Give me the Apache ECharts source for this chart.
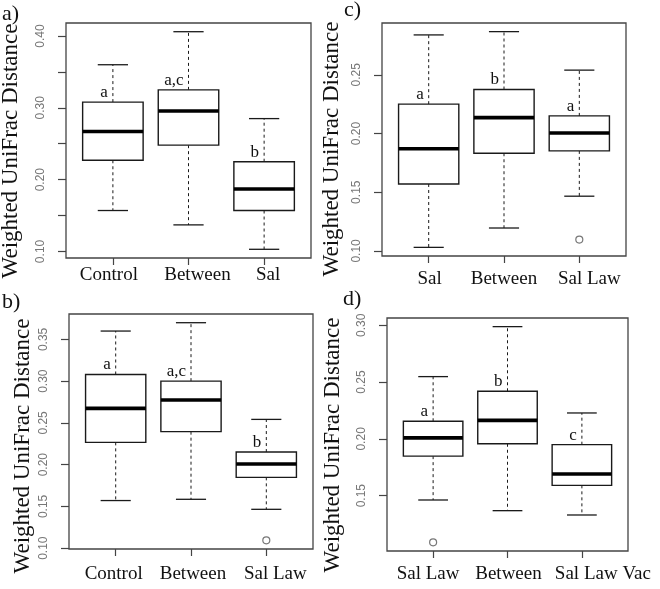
<!DOCTYPE html>
<html><head><meta charset="utf-8">
<script src="https://cdn.jsdelivr.net/npm/echarts@6/dist/echarts.min.js"></script>
<style>html,body{margin:0;padding:0;background:#fff}#c{width:660px;height:589px}</style>
</head><body><div id="c"></div>
<script>
// ---------- data ----------
// stats rows: [lower whisker, Q1, median, Q3, upper whisker]
const panelA_categories = ['Control', 'Between', 'Sal'];
const panelA_stats = [
  [0.157, 0.227, 0.267, 0.308, 0.360],
  [0.137, 0.248, 0.2955, 0.325, 0.406],
  [0.103, 0.157, 0.187, 0.225, 0.285]
];
const panelA_outliers = [];              // [category index, value]
const panelA_letters = ['a', 'a,c', 'b'];
const panelA_ticks = [0.10, 0.15, 0.20, 0.25, 0.30, 0.35, 0.40];
const panelA_tickLabels = [0.10, 0.20, 0.30, 0.40];

const panelB_categories = ['Control', 'Between', 'Sal Law'];
const panelB_stats = [
  [0.157, 0.2267, 0.2674, 0.308, 0.360],
  [0.1585, 0.2395, 0.2774, 0.300, 0.370],
  [0.1465, 0.1848, 0.2008, 0.2151, 0.2542]
];
const panelB_outliers = [[3, 0.1094]];
const panelB_letters = ['a', 'a,c', 'b'];
const panelB_ticks = [0.10, 0.15, 0.20, 0.25, 0.30, 0.35];
const panelB_tickLabels = [0.10, 0.15, 0.20, 0.25, 0.30, 0.35];

const panelC_categories = ['Sal', 'Between', 'Sal Law'];
const panelC_stats = [
  [0.103, 0.157, 0.187, 0.225, 0.284],
  [0.1195, 0.1832, 0.2135, 0.2375, 0.2868],
  [0.1466, 0.1852, 0.2005, 0.215, 0.254]
];
const panelC_outliers = [[3, 0.1096]];
const panelC_letters = ['a', 'b', 'a'];
const panelC_ticks = [0.10, 0.15, 0.20, 0.25];
const panelC_tickLabels = [0.10, 0.15, 0.20, 0.25];

const panelD_categories = ['Sal Law', 'Between', 'Sal Law Vac'];
const panelD_stats = [
  [0.1462, 0.1848, 0.2009, 0.2155, 0.2548],
  [0.1368, 0.1957, 0.2163, 0.2419, 0.2988],
  [0.1330, 0.1591, 0.1691, 0.1949, 0.2228]
];
const panelD_outliers = [[1, 0.1089]];
const panelD_letters = ['a', 'b', 'c'];
const panelD_ticks = [0.15, 0.20, 0.25, 0.30];
const panelD_tickLabels = [0.15, 0.20, 0.25, 0.30];

const yTitle = 'Weighted UniFrac Distance';

// ---------- layout ----------
const panels = [
  { tag: 'a)', cats: panelA_categories, stats: panelA_stats, outliers: panelA_outliers, letters: panelA_letters,
    ticks: panelA_ticks, labels: panelA_tickLabels, labelShift: [-4, 9, 4], labelMargin: 8,
    grid: { left: 66, top: 23, width: 245, height: 235 }, title: [11, 151], tagPos: [2, 3] },
  { tag: 'b)', cats: panelB_categories, stats: panelB_stats, outliers: panelB_outliers, letters: panelB_letters,
    ticks: panelB_ticks, labels: panelB_tickLabels, labelShift: [-2, 2, 9], labelMargin: 16,
    grid: { left: 69, top: 314, width: 244, height: 235 }, title: [23, 446], tagPos: [2, 291] },
  { tag: 'c)', cats: panelC_categories, stats: panelC_stats, outliers: panelC_outliers, letters: panelC_letters,
    ticks: panelC_ticks, labels: panelC_tickLabels, labelShift: [1, 0, 10], labelMargin: 14,
    grid: { left: 382, top: 23, width: 244, height: 233 }, title: [332, 149], tagPos: [344, -1] },
  { tag: 'd)', cats: panelD_categories, stats: panelD_stats, outliers: panelD_outliers, letters: panelD_letters,
    ticks: panelD_ticks, labels: panelD_tickLabels, labelShift: [-5, 1, 21], labelMargin: 14,
    grid: { left: 387, top: 318, width: 241, height: 233 }, title: [333, 445], tagPos: [343, 288] }
];

const SERIF = '"Liberation Serif", "Times New Roman", serif';
const SANS = '"Liberation Sans", Arial, sans-serif';
const BOX_W = 0.8, CAP_W = 0.4;
const LINE = '#1a1a1a';

function yRange(p) {
  let vals = [];
  p.stats.forEach(s => vals.push(s[0], s[4]));
  p.outliers.forEach(o => vals.push(o[1]));
  const lo = Math.min(...vals), hi = Math.max(...vals);
  const ext = (hi - lo) * 0.04;
  return [lo - ext, hi + ext];
}

const grids = [], xAxes = [], yAxes = [], series = [], graphics = [];

panels.forEach((p, i) => {
  grids.push(Object.assign({ show: true, borderColor: '#444', borderWidth: 1.3, backgroundColor: 'transparent' }, p.grid));
  const n = p.cats.length;
  const rich = {};
  p.cats.forEach((c, k) => {
    const d = p.labelShift[k];
    rich['s' + k] = { fontFamily: SERIF, fontSize: 19, color: '#111',
      padding: [0, d < 0 ? -2 * d : 0, 0, d > 0 ? 2 * d : 0] };
  });
  xAxes.push({
    type: 'value', gridIndex: i, min: 0.5 - n * 0.04, max: n + 0.5 + n * 0.04,
    axisLine: { show: false }, splitLine: { show: false },
    axisTick: { show: true, length: 7, customValues: p.cats.map((c, k) => k + 1), lineStyle: { color: '#444', width: 1.2 } },
    axisLabel: { show: true, customValues: p.cats.map((c, k) => k + 1), margin: p.labelMargin,
      showMinLabel: true, showMaxLabel: true, hideOverlap: false,
      formatter: v => { const k = Math.round(v) - 1; return p.cats[k] ? '{s' + k + '|' + p.cats[k] + '}' : ''; },
      rich: rich, fontFamily: SERIF, fontSize: 19, color: '#111' }
  });
  const yr = yRange(p);
  yAxes.push({
    type: 'value', gridIndex: i, min: yr[0], max: yr[1],
    axisLine: { show: false }, splitLine: { show: false },
    axisTick: { show: true, length: 8, customValues: p.ticks, lineStyle: { color: '#444', width: 1.2 } },
    axisLabel: { show: true, customValues: p.labels, rotate: 90, margin: 19,
      showMinLabel: true, showMaxLabel: true,
      formatter: v => Number(v).toFixed(2),
      fontFamily: SANS, fontSize: 12, color: '#777' }
  });
  const data = p.stats.map((s, k) => [k + 1].concat(s));
  series.push({
    type: 'custom', name: p.tag, xAxisIndex: i, yAxisIndex: i,
    data: data, encode: { x: 0, y: [1, 2, 3, 4, 5] },
    renderItem: function (params, api) {
      const x = api.value(0);
      const pLo = api.coord([x, api.value(1)]);
      const pQ1 = api.coord([x, api.value(2)]);
      const pMd = api.coord([x, api.value(3)]);
      const pQ3 = api.coord([x, api.value(4)]);
      const pHi = api.coord([x, api.value(5)]);
      const half = api.size([BOX_W, 0])[0] / 2;
      const cap = api.size([CAP_W, 0])[0] / 2;
      const cx = pLo[0];
      const dash = { stroke: LINE, lineWidth: 1, lineDash: [3, 3] };
      const solid = { stroke: LINE, lineWidth: 1.3 };
      return {
        type: 'group', children: [
          { type: 'line', shape: { x1: cx, y1: pQ3[1], x2: cx, y2: pHi[1] }, style: dash },
          { type: 'line', shape: { x1: cx, y1: pQ1[1], x2: cx, y2: pLo[1] }, style: dash },
          { type: 'line', shape: { x1: cx - cap, y1: pHi[1], x2: cx + cap, y2: pHi[1] }, style: solid },
          { type: 'line', shape: { x1: cx - cap, y1: pLo[1], x2: cx + cap, y2: pLo[1] }, style: solid },
          { type: 'rect', shape: { x: cx - half, y: pQ3[1], width: half * 2, height: pQ1[1] - pQ3[1] },
            style: { fill: '#fff', stroke: LINE, lineWidth: 1.4 } },
          { type: 'line', shape: { x1: cx - half, y1: pMd[1], x2: cx + half, y2: pMd[1] },
            style: { stroke: '#000', lineWidth: 3.6 } },
          { type: 'text', style: { text: p.letters[params.dataIndex], x: cx - 5, y: pQ3[1] - 1,
            align: 'right', verticalAlign: 'bottom', fontFamily: SERIF, fontSize: 17, fill: '#111' } }
        ]
      };
    }
  });
  if (p.outliers.length) {
    series.push({
      type: 'scatter', name: p.tag + ' outliers', xAxisIndex: i, yAxisIndex: i,
      data: p.outliers, symbol: 'circle', symbolSize: 7,
      itemStyle: { color: '#fff', borderColor: '#555', borderWidth: 1.2 }
    });
  }
  graphics.push({
    type: 'text', x: p.title[0], y: p.title[1], rotation: Math.PI / 2,
    style: { text: yTitle, align: 'center', verticalAlign: 'middle', fontFamily: SERIF, fontSize: 23, fill: '#111' }
  });
  graphics.push({
    type: 'text', x: p.tagPos[0], y: p.tagPos[1],
    style: { text: p.tag, align: 'left', verticalAlign: 'top', fontFamily: SERIF, fontSize: 22, fill: '#111' }
  });
});

const chart = echarts.init(document.getElementById('c'), null, { renderer: 'canvas' });
chart.setOption({
  animation: false,
  backgroundColor: '#fff',
  grid: grids, xAxis: xAxes, yAxis: yAxes, series: series, graphic: graphics
});
</script></body></html>
